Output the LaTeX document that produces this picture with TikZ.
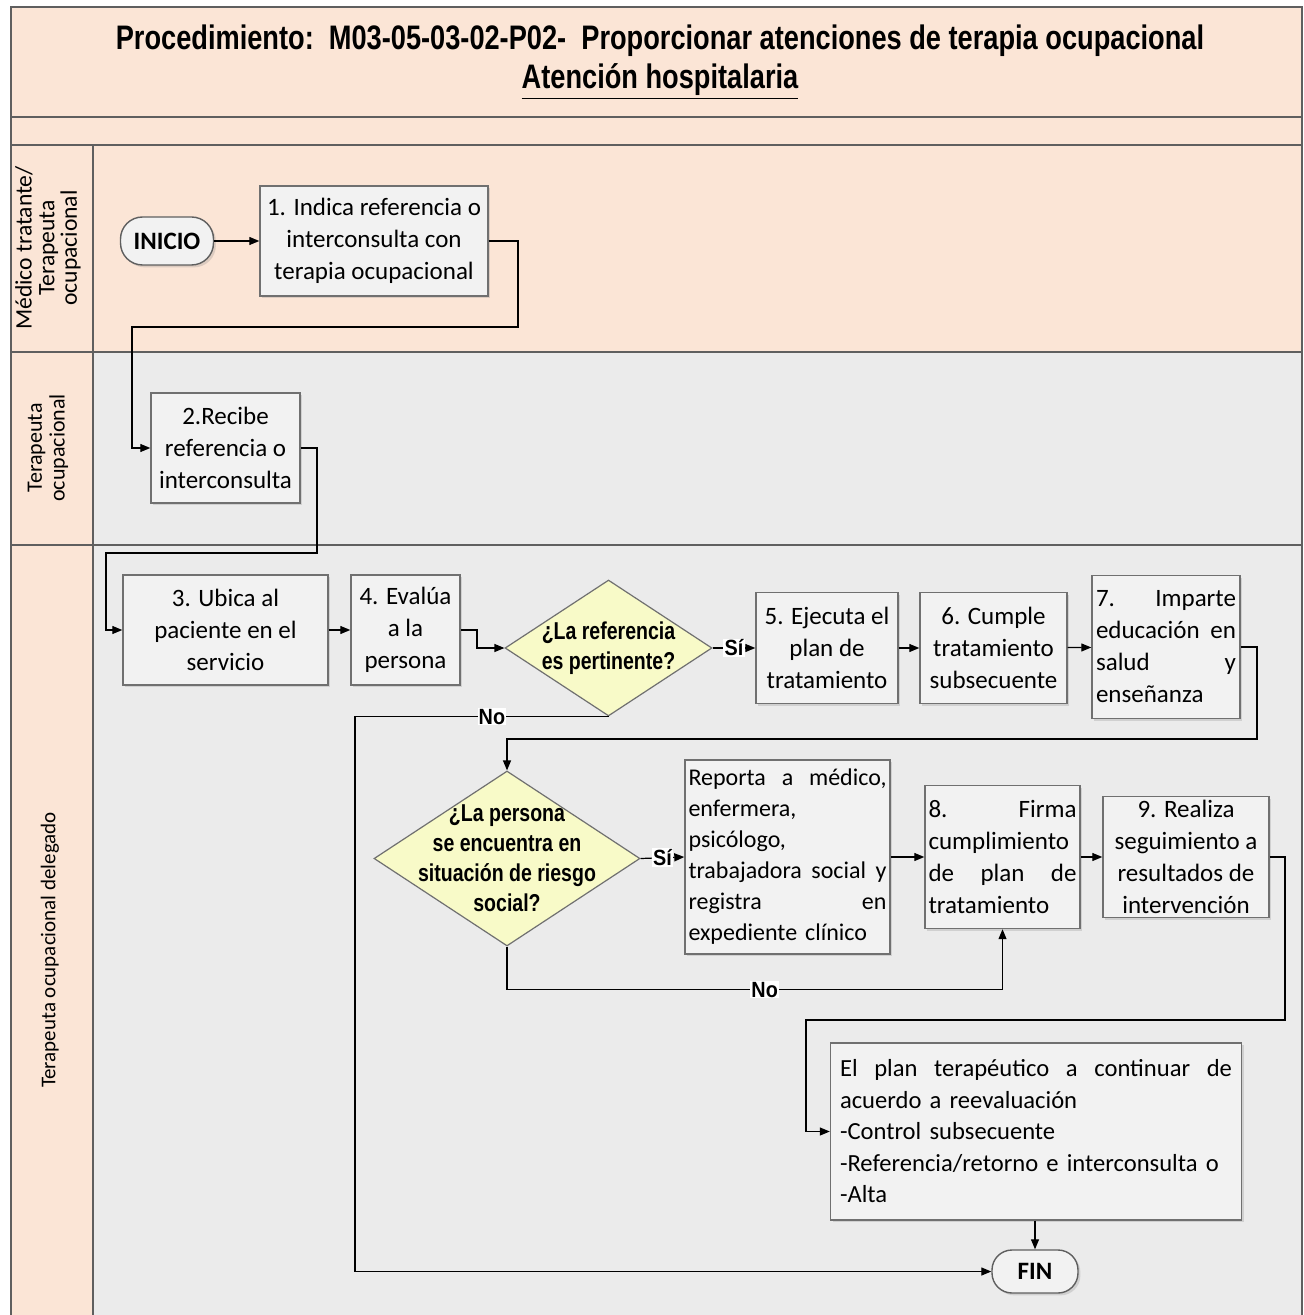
\documentclass[tikz,border=0pt]{standalone}
\usepackage{fontspec}
\setmainfont{Carlito}
\newfontfamily\narrowfont[FakeStretch=0.8]{Liberation Sans}
\newfontfamily\answerfont[FakeStretch=0.9]{Liberation Sans}
\usetikzlibrary{positioning,arrows.meta,shapes.geometric,shadows}
\definecolor{lanepeach}{RGB}{251,229,214}
\definecolor{lanegray}{RGB}{235,235,235}
\definecolor{laneline}{RGB}{95,95,95}
\definecolor{boxfill}{RGB}{242,242,242}
\definecolor{boxline}{RGB}{112,112,112}
\definecolor{askfill}{RGB}{248,250,200}
\tikzset{
  >={Triangle[length=5pt,width=4pt]},
  lanerule/.style={draw=laneline,line width=0.7pt},
  lanetext/.style={rotate=90,align=center,font=\fontsize{11}{11.3}\selectfont},
  box/.style={draw=boxline,fill=boxfill,line width=0.7pt,inner sep=2pt,align=center,
    font=\fontsize{12.5}{16}\selectfont,
    drop shadow={opacity=0.25,shadow xshift=1.2pt,shadow yshift=-1.2pt}},
  ask/.style={diamond,draw=boxline,fill=askfill,line width=0.6pt,inner sep=-25pt,aspect=1.5,
    align=center,font=\narrowfont\bfseries\fontsize{12.2}{15}\selectfont},
  terminal/.style={draw=laneline,fill=boxfill,line width=0.7pt,rounded corners=11pt,
    font=\bfseries\fontsize{12.5}{14}\selectfont,
    drop shadow={opacity=0.25,shadow xshift=1.2pt,shadow yshift=-1.2pt}},
  answer/.style={fill=white,inner sep=0.6pt,font=\answerfont\bfseries\fontsize{11}{12}\selectfont},
  link/.style={->,line width=0.6pt},
}

\begin{document}
\begin{tikzpicture}[x=0.5pt,y=-0.5pt]
  \useasboundingbox (0,0) rectangle (1303,1315);
  % lanes
  \fill[lanepeach] (11,7) rectangle (1302,352);
  \fill[lanepeach] (11,352) rectangle (93,1315);
  \fill[lanegray] (93,352) rectangle (1302,1315);
  \draw[lanerule] (11,1315) -- (11,7) -- (1302,7) -- (1302,1315);
  \draw[lanerule] (11,117) -- (1302,117) (11,145) -- (1302,145)
    (11,352) -- (1302,352) (11,545) -- (1302,545) (93,145) -- (93,1315);

  % title
  \node[font=\narrowfont\bfseries\fontsize{17}{20}\selectfont] (title) at (660,41)
    {Procedimiento:\ \ M03-05-03-02-P02-\ \ Proporcionar atenciones de terapia ocupacional};
  \node[font=\narrowfont\bfseries\fontsize{17}{20}\selectfont] (subtitle) at (660,82)
    {\underline{Atención hospitalaria}};

  % lane labels
  \node[lanetext,font=\fontsize{11.8}{11.3}\selectfont] (lane1) at (48,248) {Médico tratante/\\Terapeuta\\ocupacional};
  \node[lanetext] (lane2) at (48,448) {Terapeuta\\ocupacional};
  \node[lanetext,font=\fontsize{10.5}{11.3}\selectfont] (lane3) at (50,950) {Terapeuta ocupacional delegado};

  % steps
  \node[terminal,minimum width=46.5pt,minimum height=24pt] (inicio) at (167,241) {INICIO};
  \node[box,minimum width=114pt,minimum height=55pt] (b1) at (374,241)
    {1. Indica referencia o\\interconsulta con\\terapia ocupacional};
  \node[box,minimum width=74.5pt,minimum height=55pt] (b2) at (225.5,448)
    {2.Recibe\\referencia o\\interconsulta};
  \node[box,minimum width=102.5pt,minimum height=55pt] (b3) at (225.5,630)
    {3. Ubica al\\paciente en el\\servicio};
  \node[box,minimum width=54.5pt,minimum height=55pt] (b4) at (405.5,630)
    {4. Evalúa\\a la\\persona};
  \node[ask,minimum width=103.5pt,minimum height=68pt] (d1) at (608.5,648)
    {¿La referencia\\es pertinente?};
  \node[box,minimum width=71pt,minimum height=55.5pt] (b5) at (827,648)
    {5. Ejecuta el\\plan de\\tratamiento};
  \node[box,minimum width=73.5pt,minimum height=55.5pt] (b6) at (993.5,648)
    {6. Cumple\\tratamiento\\subsecuente};
  \node[box,minimum width=74pt,minimum height=71.5pt,text width=70pt,align=left,inner sep=1.5pt] (b7) at (1166,647)
    {7.\hfill Imparte\\educación\hfill en\\salud\hfill y\\enseñanza};
  \node[ask,minimum width=133pt,minimum height=87.5pt] (d2) at (507,858.5)
    {¿La persona\\se encuentra en\\situación de riesgo\\social?};
  \node[box,minimum width=102.5pt,minimum height=97pt,text width=99pt,align=left,inner sep=1.5pt,
    font=\fontsize{12}{15.5}\selectfont] (rep) at (787.5,857)
    {Reporta\hfill a\hfill médico,\\enfermera,\\psicólogo,\\trabajadora\hfill social\hfill y\\registra\hfill en\\expediente clínico};
  \node[box,minimum width=77.5pt,minimum height=71.5pt,text width=74pt,align=left,inner sep=1.5pt] (b8) at (1002.5,857)
    {8.\hfill Firma\\cumplimiento\\de\hfill plan\hfill de\\tratamiento};
  \node[box,minimum width=83pt,minimum height=60.5pt] (b9) at (1186,857)
    {9. Realiza\\seguimiento a\\resultados de\\intervención};
  \node[box,minimum width=205.5pt,minimum height=88.5pt,text width=196pt,align=left,
    font=\fontsize{12.3}{15.75}\selectfont] (plan) at (1036,1131.5)
    {El\hfill plan\hfill terapéutico\hfill a\hfill continuar\hfill de\\acuerdo a reevaluación\\-Control subsecuente\\-Referencia/retorno e interconsulta o\\-Alta};
  \node[terminal,minimum width=43pt,minimum height=21.5pt,rounded corners=10pt] (fin) at (1035,1271.5) {FIN};

  % flow
  \draw[link] (inicio) -- (b1);
  \draw[link] (b1.east) -| (518,327) -| (132,448) -- (b2.west);
  \draw[link] (b2.east) -| (317,553) -| (106,630) -- (b3.west);
  \draw[link] (b3) -- (b4);
  \draw[link] (b4.east) -| (477,648) -- (d1.west);
  \draw[link] (d1.east) -- node[answer] {Sí} (b5.west);
  \draw[link] (b5) -- (b6);
  \draw[link] (b6) -- (b7);
  \draw[link] (b7.east) -| (1257,739) -| (d2.north);
  \draw[link] (d1.south) -| node[answer,pos=0.23] {No} (355,1271.5) -- (fin.west);
  \draw[link] (d2.east) -- node[answer] {Sí} (rep.west);
  \draw[link] (d2.south) -- ++(0,43) -| node[answer,pos=0.26] {No} (b8.south);
  \draw[link] (rep.east) -- (b8.west);
  \draw[link] (b8) -- (b9);
  \draw[link] (b9.east) -| (1285,1020) -| (806,1131.5) -- (plan.west);
  \draw[link] (plan.south -| fin) -- (fin);
\end{tikzpicture}
\end{document}
